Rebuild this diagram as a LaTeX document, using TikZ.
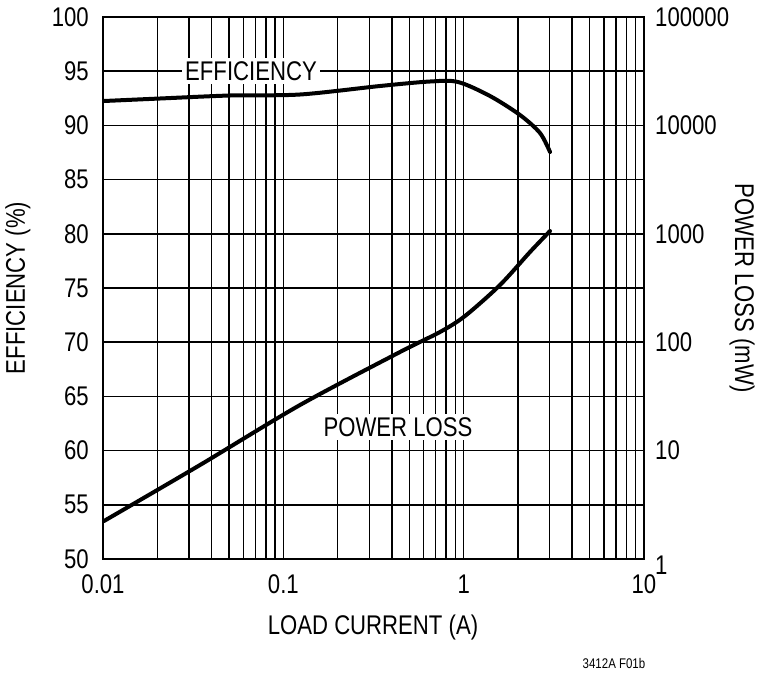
\documentclass[tikz,border=0pt]{standalone}
\usepackage{fontspec}
\setmainfont{Liberation Sans}[FakeStretch=0.82]
\begin{document}
\begin{tikzpicture}[x=1pt,y=-1pt,
  grid/.style={line width=1.5pt},
  curve/.style={line width=4pt,line cap=round,line join=round},
  lab/.style={font=\fontsize{27}{29}\selectfont,inner sep=1pt},
  clab/.style={font=\fontsize{27}{29}\selectfont,fill=white,inner sep=3pt}]
\useasboundingbox (0,0) rectangle (760,678);
\def\xl{103}\def\xr{644}\def\yt{17}\def\yb{559}
\foreach \d in {0,1,2}{
  \foreach \m in {2,...,9}{
    \pgfmathsetmacro\xx{\xl+180.33*(\d+log10(\m))}
    \draw[grid] (\xx,\yt) -- (\xx,\yb);
  }}
\foreach \d in {1,2}{\draw[grid] ({\xl+180.33*\d},\yt) -- ({\xl+180.33*\d},\yb);}
\foreach \i in {1,...,9}{\draw[grid] (\xl,{\yt+54.2*\i}) -- (\xr,{\yt+54.2*\i});}
\draw[line width=2pt] (\xl,\yt) rectangle (\xr,\yb);
\node[clab] (eff) at (251,71) {EFFICIENCY};
\node[clab] (pl) at (398,427) {POWER LOSS};
\draw[curve] plot[smooth,tension=0.5] coordinates {(104,101) (160,98.5) (230,95.5) (300,94.5) (380,86) (430,81.5) (458,82) (490,96) (520,115) (540,133) (550,152)};
\draw[curve] plot[smooth,tension=0.5] coordinates {(104,521) (200,465) (300,405) (400,352) (440,332) (465,316) (500,285) (530,252) (550,231)};
\foreach \v [count=\i from 0] in {100,95,90,85,80,75,70,65,60,55,50}{
  \node[lab,anchor=east] (l\i) at (90,{\yt+54.2*\i}) {\v};}
\foreach \v [count=\i from 0] in {100000,10000,1000,100,10,1}{
  \node[lab,anchor=west] (r\i) at (654,{\yt+108.4*\i+(\i==5?6:0)}) {\v};}
\foreach \v [count=\i from 0] in {0.01,0.1,1,10}{
  \node[lab] (b\i) at ({\xl+180.33*\i},584) {\v};}
\node[lab] (xt) at (373,628) {LOAD CURRENT (A)};
\node[lab,rotate=90] (yt) at (18,288) {EFFICIENCY (\%)};
\node[lab,rotate=-90] (yt2) at (742,288) {POWER LOSS (mW)};
\node[font=\fontsize{14}{16}\selectfont] (fig) at (614,663) {3412A F01b};
\end{tikzpicture}
\end{document}
